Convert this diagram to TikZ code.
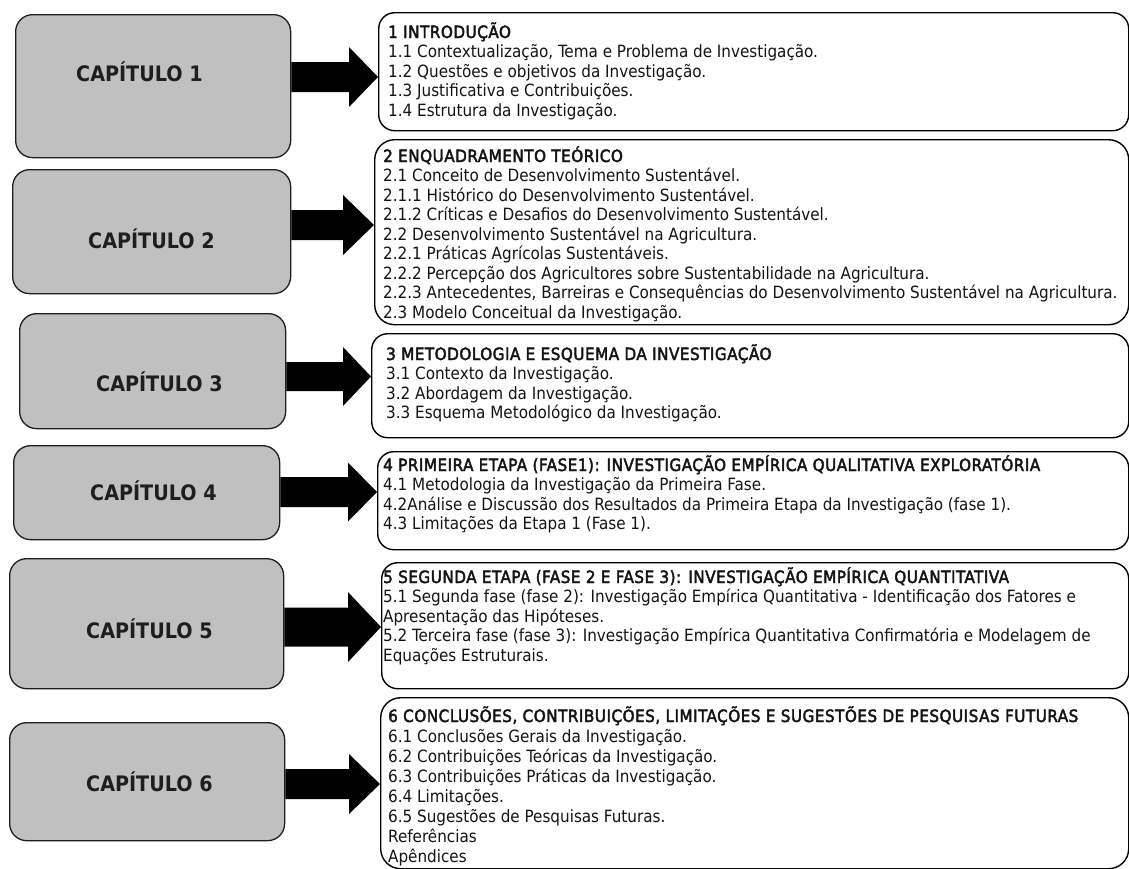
\documentclass[tikz,border=0pt]{standalone}
\usepackage{fontspec}
\setmainfont{DejaVu Sans Condensed}
\newfontfamily\headfont{DejaVu Sans Condensed}[FakeBold=2.5,LetterSpace=3]
\usetikzlibrary{calc}
\definecolor{capgray}{RGB}{192,192,192}
\definecolor{edge}{RGB}{30,30,30}
% table of contents block: first row sits on the node's baseline
\newcommand\toc[1]{\begin{tabular}[t]{@{}l@{}}#1\end{tabular}}
% block arrow from a chapter box to its contents box
% #1 source, #2 target, #3 shaft centre y, #4 shaft half height, #5 head base x, #6 head half height
\newcommand\chaparrow[6]{%
  \fill[black] ($(#1.east |- 0,#3)+(0,-#4)$) -- (#5,#3-#4) -- (#5,#3-#6)
    -- (#2.west |- 0,#3) -- (#5,#3+#6) -- (#5,#3+#4)
    -- ($(#1.east |- 0,#3)+(0,#4)$) -- cycle;}
\begin{document}
\begin{tikzpicture}[x=1pt,y=-1pt,
  lbox/.style={draw=edge, line width=1.3pt, fill=capgray, rounded corners=17pt,
    anchor=north west, inner sep=0pt},
  rbox/.style={draw=black, line width=1.4pt, fill=white, rounded corners=16pt,
    anchor=north west, inner sep=0pt},
  caplabel/.style={anchor=base west, inner sep=0pt, text=edge,
    font=\fontsize{21.3}{24}\selectfont\bfseries},
  toctext/.style={anchor=base west, inner sep=0pt, text=black!92,
    font=\fontsize{16.9}{19.5}\selectfont},
  toctextwide/.style={toctext, font=\fontsize{16.9}{20}\selectfont}]
\path[use as bounding box] (0,0) rectangle (1129,868);
\begin{scope}
\clip (0,0) rectangle (1129,868);

% chapter boxes
\node[lbox, minimum width=275, minimum height=143] (l1) at (15,14) {};
\node[lbox, minimum width=278, minimum height=124] (l2) at (12,169) {};
\node[lbox, minimum width=266, minimum height=115] (l3) at (19,313) {};
\node[lbox, minimum width=266, minimum height=94]  (l4) at (13,445) {};
\node[lbox, minimum width=274, minimum height=130] (l5) at (9,558) {};
\node[lbox, minimum width=275, minimum height=118] (l6) at (9,722) {};

\node[caplabel] (c1) at (76,81.5) {CAPÍTULO 1};
\node[caplabel] (c2) at (88,248.5) {CAPÍTULO 2};
\node[caplabel] (c3) at (96,391.5) {CAPÍTULO 3};
\node[caplabel] (c4) at (90,500.5) {CAPÍTULO 4};
\node[caplabel] (c5) at (86,638.5) {CAPÍTULO 5};
\node[caplabel] (c6) at (86,791.5) {CAPÍTULO 6};

% contents boxes
\node[rbox, minimum width=750, minimum height=118] (r1) at (378,12) {};
\node[rbox, rounded corners=20pt, minimum width=754, minimum height=185] (r2) at (374,139) {};
\node[rbox, minimum width=757, minimum height=104] (r3) at (371,333) {};
\node[rbox, minimum width=751, minimum height=98]  (r4) at (377,451) {};
\node[rbox, minimum width=747, minimum height=126] (r5) at (381,562) {};
\node[rbox, rounded corners=20pt, minimum width=748, minimum height=171] (r6) at (380,697) {};

% arrows
\chaparrow{l1}{r1}{77}{15}{349}{30}
\chaparrow{l2}{r2}{225}{15}{343}{30}
\chaparrow{l3}{r3}{376.5}{14.5}{343}{29.5}
\chaparrow{l4}{r4}{492}{15}{348}{29.5}
\chaparrow{l5}{r5}{627}{19.5}{348}{35}
\chaparrow{l6}{r6}{784}{15}{349}{30}

% contents
\node[toctext] (t1) at (388,38) {\toc{%
  {\headfont 1 INTRODUÇÃO}\\
  1.1 Contextualização, Tema e Problema de Investigação.\\
  1.2 Questões e objetivos da Investigação.\\
  1.3 Justificativa e Contribuições.\\
  1.4 Estrutura da Investigação.}};
\node[toctext] (t2) at (383,162) {\toc{%
  {\headfont 2 ENQUADRAMENTO TEÓRICO}\\
  2.1 Conceito de Desenvolvimento Sustentável.\\
  2.1.1 Histórico do Desenvolvimento Sustentável.\\
  2.1.2 Críticas e Desafios do Desenvolvimento Sustentável.\\
  2.2 Desenvolvimento Sustentável na Agricultura.\\
  2.2.1 Práticas Agrícolas Sustentáveis.\\
  2.2.2 Percepção dos Agricultores sobre Sustentabilidade na Agricultura.\\
  2.2.3 Antecedentes, Barreiras e Consequências do Desenvolvimento Sustentável na Agricultura.\\
  2.3 Modelo Conceitual da Investigação.}};
\node[toctext] (t3) at (386,360) {\toc{%
  {\headfont 3 METODOLOGIA E ESQUEMA DA INVESTIGAÇÃO}\\
  3.1 Contexto da Investigação.\\
  3.2 Abordagem da Investigação.\\
  3.3 Esquema Metodológico da Investigação.}};
\node[toctext] (t4) at (383,471) {\toc{%
  {\headfont 4 PRIMEIRA ETAPA (FASE1): INVESTIGAÇÃO EMPÍRICA QUALITATIVA EXPLORATÓRIA}\\
  4.1 Metodologia da Investigação da Primeira Fase.\\
  4.2Análise e Discussão dos Resultados da Primeira Etapa da Investigação (fase 1).\\
  4.3 Limitações da Etapa 1 (Fase 1).}};
\node[toctext] (t5) at (383,583) {\toc{%
  {\headfont 5 SEGUNDA ETAPA (FASE 2 E FASE 3): INVESTIGAÇÃO EMPÍRICA QUANTITATIVA}\\
  5.1 Segunda fase (fase 2): Investigação Empírica Quantitativa - Identificação dos Fatores e\\
  Apresentação das Hipóteses.\\
  5.2 Terceira fase (fase 3): Investigação Empírica Quantitativa Confirmatória e Modelagem de\\
  Equações Estruturais.}};
\node[toctextwide] (t6) at (388,722) {\toc{%
  {\headfont 6 CONCLUSÕES, CONTRIBUIÇÕES, LIMITAÇÕES E SUGESTÕES DE PESQUISAS FUTURAS}\\
  6.1 Conclusões Gerais da Investigação.\\
  6.2 Contribuições Teóricas da Investigação.\\
  6.3 Contribuições Práticas da Investigação.\\
  6.4 Limitações.\\
  6.5 Sugestões de Pesquisas Futuras.\\
  Referências\\
  Apêndices}};
\end{scope}
\end{tikzpicture}
\end{document}
